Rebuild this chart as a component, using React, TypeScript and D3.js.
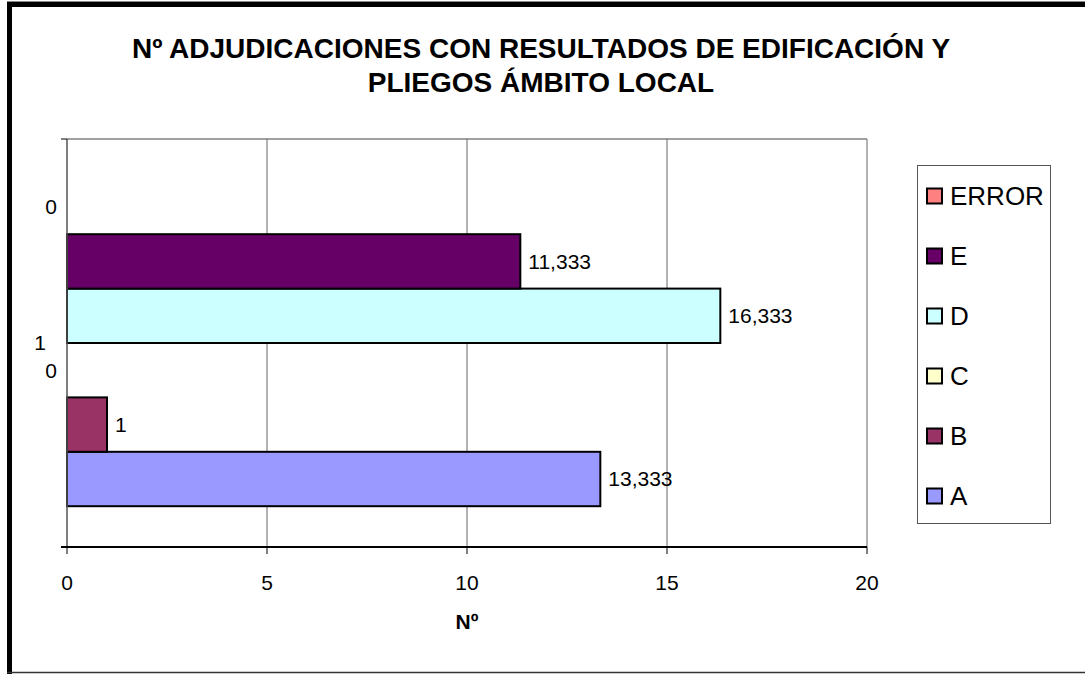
import React from "react";
import * as d3 from "d3";

const categories = ["1"];
const seriesNames = ["A", "B", "C", "D", "E", "ERROR"];
const seriesValues = [13.333, 1, 0, 16.333, 11.333, 0];
const seriesColors = ["#9999FF", "#993366", "#FFFFCC", "#CCFFFF", "#660066", "#FF8080"];
const xTicks = [0, 5, 10, 15, 20];
const titleLines = ["Nº ADJUDICACIONES CON RESULTADOS DE EDIFICACIÓN Y", "PLIEGOS ÁMBITO LOCAL"];
const xAxisTitle = "Nº";

const fmt = (v: number) => (Number.isInteger(v) ? String(v) : v.toFixed(3).replace(".", ","));

export default function App() {
  const W = 1085, H = 674;
  const left = 67, right = 867, top = 139, bottom = 547;
  const FONT = "Arial, 'Liberation Sans', sans-serif";

  const x = d3.scaleLinear().domain([0, 20]).range([left, right]);
  const yCat = d3.scaleBand().domain(categories).range([top, bottom]).padding(0);
  const order = [...seriesNames].reverse(); // top to bottom
  const ySer = d3.scaleBand().domain(order).range([0, yCat.bandwidth()]).paddingInner(0).paddingOuter(0.75);

  const legendTop = 196, legendStep = 60;

  return (
    <svg width={W} height={H} style={{ position: "absolute", left: 0, top: 0, background: "#fff" }} fontFamily={FONT}>
      {/* frame */}
      <rect x={0} y={0} width={W} height={H} fill="#fff" />
      <line x1={7} y1={1.5} x2={W} y2={1.5} stroke="#888" strokeWidth={1} />
      <rect x={7} y={2} width={W - 7} height={5} fill="#000" />
      <rect x={7} y={2} width={5} height={H - 2} fill="#000" />
      <line x1={7} y1={672.5} x2={W} y2={672.5} stroke="#333" strokeWidth={1.5} />

      {/* title */}
      {titleLines.map((t, i) => (
        <text key={i} x={541} y={58 + i * 34} textAnchor="middle" fontWeight="bold" fontSize={28} fill="#000">{t}</text>
      ))}

      {/* plot area border + gridlines */}
      <line x1={left} y1={top} x2={right} y2={top} stroke="#808080" strokeWidth={1.5} />
      {xTicks.slice(1).map((t) => (
        <line key={t} x1={x(t)} y1={top} x2={x(t)} y2={bottom} stroke="#666" strokeWidth={1} />
      ))}

      {/* bars */}
      {categories.map((c) =>
        seriesNames.map((s, i) => {
          const v = seriesValues[i];
          const y0 = (yCat(c) as number) + (ySer(s) as number);
          const h = ySer.bandwidth();
          return (
            <g key={c + s}>
              {v > 0 && (
                <rect x={x(0)} y={y0} width={x(v) - x(0)} height={h} fill={seriesColors[i]} stroke="#000" strokeWidth={2} />
              )}
              <text
                x={v > 0 ? x(v) + 8 : x(0) - 10}
                y={y0 + h / 2}
                dy="0.35em"
                textAnchor={v > 0 ? "start" : "end"}
                fontSize={21}
                fill="#000"
              >
                {fmt(v)}
              </text>
            </g>
          );
        })
      )}

      {/* axes */}
      <line x1={left} y1={top} x2={left} y2={bottom} stroke="#555" strokeWidth={1.5} />
      <line x1={left - 6} y1={top} x2={left} y2={top} stroke="#000" strokeWidth={1} />
      <line x1={left - 6} y1={bottom} x2={left} y2={bottom} stroke="#000" strokeWidth={1} />
      <line x1={left - 6} y1={bottom} x2={right} y2={bottom} stroke="#000" strokeWidth={2} />
      {xTicks.map((t) => (
        <g key={t}>
          <line x1={x(t)} y1={bottom} x2={x(t)} y2={bottom + 7} stroke="#000" strokeWidth={1} />
          <text x={x(t)} y={583} dy="0.35em" textAnchor="middle" fontSize={21} fill="#000">{t}</text>
        </g>
      ))}
      {categories.map((c) => (
        <text key={c} x={46} y={(yCat(c) as number) + yCat.bandwidth() / 2} dy="0.35em" textAnchor="end" fontSize={21} fill="#000">{c}</text>
      ))}
      <text x={467} y={622} dy="0.35em" textAnchor="middle" fontWeight="bold" fontSize={21} fill="#000">{xAxisTitle}</text>

      {/* legend */}
      <rect x={917.5} y={165.5} width={133} height={358} fill="#fff" stroke="#555" strokeWidth={1} />
      {order.map((s, k) => {
        const i = seriesNames.indexOf(s);
        const cy = legendTop + k * legendStep;
        return (
          <g key={s}>
            <rect x={927} y={cy - 7.5} width={15} height={15} fill={seriesColors[i]} stroke="#000" strokeWidth={2} />
            <text x={950} y={cy} dy="0.35em" fontSize={26} fill="#000">{s}</text>
          </g>
        );
      })}
    </svg>
  );
}
